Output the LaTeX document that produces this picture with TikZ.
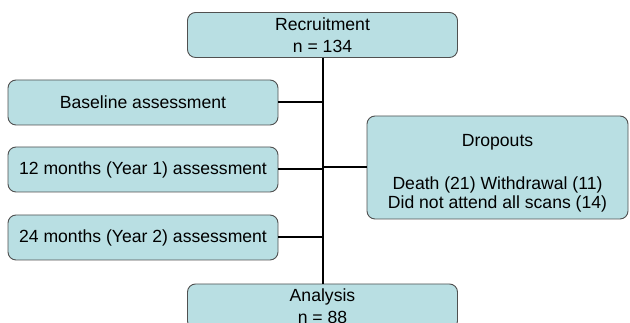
\documentclass[tikz,border=0pt]{standalone}
\usepackage{fontspec}
\setmainfont{Liberation Sans}
\usetikzlibrary{positioning}
\definecolor{boxfill}{HTML}{B9DFE3}
\definecolor{boxline}{HTML}{505050}
\tikzset{
  stage/.style={draw=boxline, fill=boxfill, rounded corners=8pt, line width=0.9pt,
    minimum width=270pt, minimum height=45pt, align=center, inner sep=0pt,
    font=\fontsize{17.6}{22}\selectfont},
  link/.style={line width=2pt}
}
\begin{document}
\begin{tikzpicture}[x=1pt,y=1pt]
  \useasboundingbox (0,0) rectangle (630,323);

  \node[stage] (recruit) at (322.5,288) {Recruitment\\n = 134};
  \node[stage] (base) at (143,220.5) {Baseline assessment};
  \node[stage] (year1) at (143,153.5) {12 months (Year 1) assessment};
  \node[stage] (year2) at (143,85.5) {24 months (Year 2) assessment};
  \node[stage, minimum width=261pt, minimum height=103pt,
    font=\fontsize{17.6}{19}\selectfont] (drop) at (497.5,155.5)
    {\rule{0pt}{23pt}Dropouts\\[24pt]Death (21) Withdrawal (11)\\Did not attend all scans (14)};
  \node[stage] (analysis) at (322.5,16.5) {Analysis\\n = 88};

  % trunk and branches
  \draw[link] (recruit.south) -- (analysis.north);
  \foreach \s in {base,year1,year2}
    \draw[link] (\s.east) -- (\s.east -| recruit.south);
  \draw[link] (drop.west -| recruit.south) -- (drop.west);
\end{tikzpicture}
\end{document}
